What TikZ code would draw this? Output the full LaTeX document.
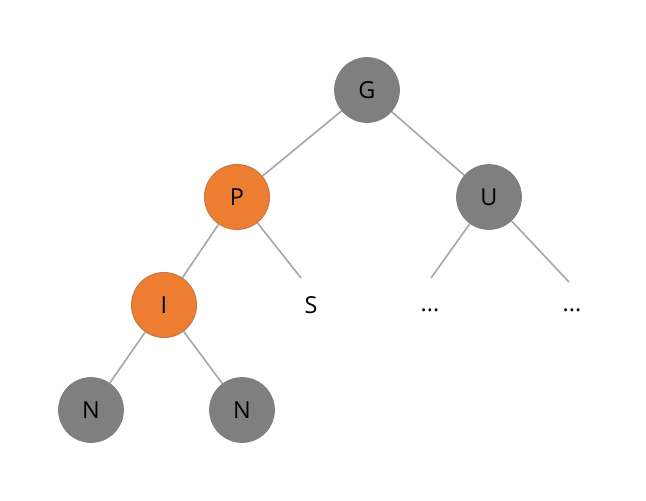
\documentclass[tikz,border=0pt]{standalone}
\usepackage{fontspec}
\setmainfont{Open Sans}
\usepackage{tikz}
\usetikzlibrary{positioning,backgrounds}
\definecolor{treeorange}{RGB}{237,125,49}
\definecolor{orangeedge}{RGB}{196,120,72}
\definecolor{treegray}{RGB}{127,127,127}
\definecolor{edgegray}{RGB}{168,168,168}
\tikzset{
    tnode/.style={circle, fill=#1, draw=#1, line width=0.6pt,
                  minimum size=1.95cm, inner sep=0pt,
                  font=\fontsize{20}{24}\selectfont},
    hnode/.style={circle, fill=treeorange, draw=orangeedge, line width=0.8pt,
                  minimum size=1.95cm, inner sep=0pt,
                  font=\fontsize{20}{24}\selectfont},
    leaf/.style={inner sep=0pt, font=\fontsize{20}{24}\selectfont},
    branch/.style={draw=edgegray, line width=1.4pt},
}
\begin{document}
\begin{tikzpicture}[x=0.03cm, y=-0.03cm]
    \useasboundingbox (0,0) rectangle (646,500);
    % nodes
    \node[tnode=treegray] (g) at (367,90) {G};
    \node[hnode] (p) at (237,197) {P};
    \node[tnode=treegray] (u) at (489,197) {U};
    \node[hnode] (i) at (164,305) {I};
    \node[leaf] (s) at (311,305) {S};
    \node[leaf] (d1) at (430,310) {...};
    \node[leaf] (d2) at (572,310) {...};
    \node[tnode=treegray] (n1) at (91,410) {N};
    \node[tnode=treegray] (n2) at (242,410) {N};
    % loose ends
    \coordinate (sEnd) at (301,278);
    \coordinate (d1End) at (431,278);
    \coordinate (d2End) at (569,282);
    % edges
    \begin{scope}[on background layer]
    \draw[branch] (g) -- (p);
    \draw[branch] (g) -- (u);
    \draw[branch] (p) -- (i);
    \draw[branch] (p) -- (sEnd);
    \draw[branch] (u) -- (d1End);
    \draw[branch] (u) -- (d2End);
    \draw[branch] (i) -- (n1);
    \draw[branch] (i) -- (n2);
    \end{scope}
\end{tikzpicture}
\end{document}
